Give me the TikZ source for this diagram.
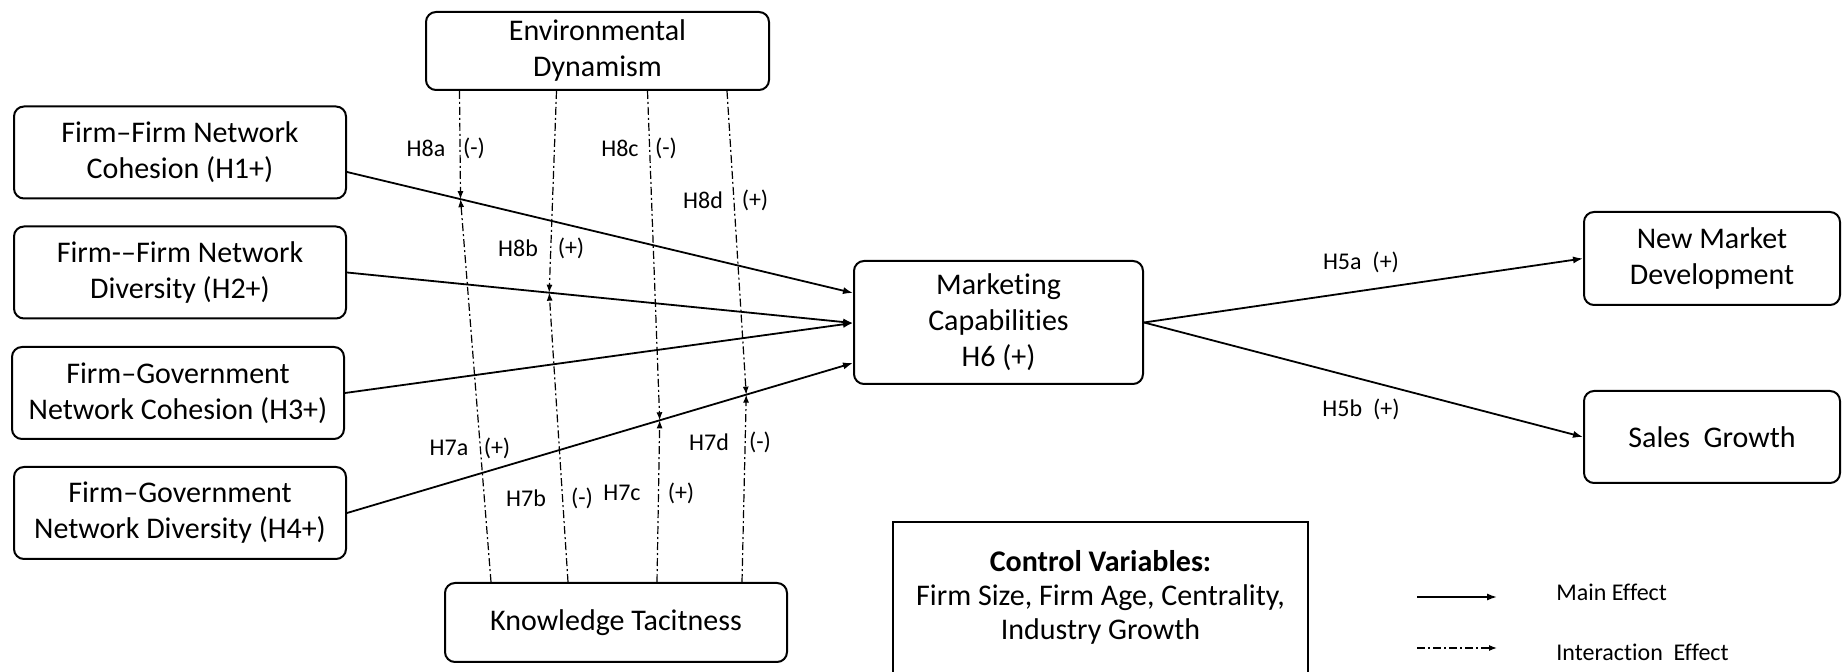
\documentclass[tikz,border=0pt]{standalone}
\usepackage{fontspec}
\setmainfont{Carlito}[Ligatures=NoCommon]
\usetikzlibrary{arrows.meta,calc}
\begin{document}
\begin{tikzpicture}[x=0.5pt,y=-0.5pt,
  box/.style={draw,line width=1pt,rounded corners=5pt,align=center,inner sep=0pt,font=\fontsize{15}{18}\selectfont},
  lbl/.style={inner sep=0pt,font=\fontsize{12}{14}\selectfont},
  main/.style={line width=0.9pt,-{Latex[length=5pt,width=3.6pt]}},
  inter/.style={line width=0.6pt,dash pattern=on 4pt off 1.5pt on 1pt off 1.5pt,-{Latex[length=4pt,width=3pt]}}]
\useasboundingbox (0,0) rectangle (1846,672);
\clip (0,0) rectangle (1846,672);
% boxes
\node[box,minimum width=166pt,minimum height=46pt] (FFC) at (180,152.5) {Firm–Firm Network\\Cohesion (H1+)};
\node[box,minimum width=166pt,minimum height=46pt] (FFD) at (180,272.5) {Firm-–Firm Network\\Diversity (H2+)};
\node[box,minimum width=166pt,minimum height=46pt] (FGC) at (178,393) {Firm–Government\\Network Cohesion (H3+)};
\node[box,minimum width=166pt,minimum height=46pt] (FGD) at (180,513) {Firm–Government\\Network Diversity (H4+)};
\node[box,minimum width=171.5pt,minimum height=39pt] (ED) at (597.5,51) {Environmental\\Dynamism};
\node[box,minimum width=171pt,minimum height=39.5pt] (KT) at (616,622.5) {Knowledge Tacitness};
\node[box,minimum width=144.5pt,minimum height=61.5pt] (MC) at (998.5,322.5) {Marketing\\Capabilities\\H6 (+)};
\node[box,minimum width=128pt,minimum height=46.5pt] (NMD) at (1712,258.5) {New Market\\Development};
\node[box,minimum width=128pt,minimum height=46pt] (SG) at (1712,437) {Sales\ \ Growth};
% main effects
\draw[main] ($(FFC.east)+(0,19.5)$) -- ($(MC.west)+(0,-29.5)$) coordinate[pos=0.2244] (m1);
\draw[main] (FFD.east) -- ($(MC.west)+(0,0.5)$) coordinate[pos=0.3996] (m2);
\draw[main] (FGC.east) -- ($(MC.west)+(0,0.5)$);
\draw[main] (FGD.east) -- ($(MC.west)+(0,40.5)$) coordinate[pos=0.618] (m3) coordinate[pos=0.789] (m4);
\draw[main] (MC.east) -- (NMD.west);
\draw[main] (MC.east) -- (SG.west);
% interaction effects
\draw[inter] ($(ED.south)+(-138,0)$) -- (m1);
\draw[inter] ($(KT.north)+(-125,0)$) -- (m1);
\draw[inter] ($(ED.south)+(-41,0)$) -- (m2);
\draw[inter] ($(KT.north)+(-48,0)$) -- (m2);
\draw[inter] ($(ED.south)+(50,0)$) -- (m3);
\draw[inter] ($(KT.north)+(41,0)$) -- (m3);
\draw[inter] ($(ED.south)+(129.5,0)$) -- (m4);
\draw[inter] ($(KT.north)+(126,0)$) -- (m4);
% labels
\node[lbl] (l8a) at (426,148) {H8a}; \node[lbl] (s8a) at (474,148) {(-)};
\node[lbl] (l8b) at (518,248) {H8b}; \node[lbl] (s8b) at (571,248) {(+)};
\node[lbl] (l8c) at (620,148) {H8c}; \node[lbl] (s8c) at (666,148) {(-)};
\node[lbl] (l8d) at (703,200) {H8d}; \node[lbl] (s8d) at (755,200) {(+)};
\node[lbl] (l7a) at (449,448) {H7a}; \node[lbl] (s7a) at (497,448) {(+)};
\node[lbl] (l7b) at (526,498) {H7b}; \node[lbl] (s7b) at (582,498) {(-)};
\node[lbl] (l7c) at (622,493) {H7c}; \node[lbl] (s7c) at (681,493) {(+)};
\node[lbl] (l7d) at (709,442) {H7d}; \node[lbl] (s7d) at (760,442) {(-)};
\node[lbl] (l5a) at (1361,262) {H5a\ \ (+)};
\node[lbl] (l5b) at (1361,409) {H5b\ \ (+)};
% control variables
\node[align=center,inner sep=0pt,font=\fontsize{15}{17}\selectfont] (CV) at (1100.5,597) {\textbf{Control Variables:}\\Firm Size, Firm Age, Centrality,\\Industry Growth};
\draw[line width=1pt] (893,720) |- (1308,522) -- (1308,720);
% legend
\coordinate (lm1) at (1417,597); \coordinate (lm2) at (1497,597);
\draw[main] (lm1) -- (lm2);
\node[lbl,anchor=west] (LM) at (1556,592) {Main Effect};
\coordinate (li1) at (1417,648); \coordinate (li2) at (1497,648);
\draw[inter] (li1) -- (li2);
\node[lbl,anchor=west] (LI) at (1556,652) {Interaction\ \ Effect};
\end{tikzpicture}
\end{document}
